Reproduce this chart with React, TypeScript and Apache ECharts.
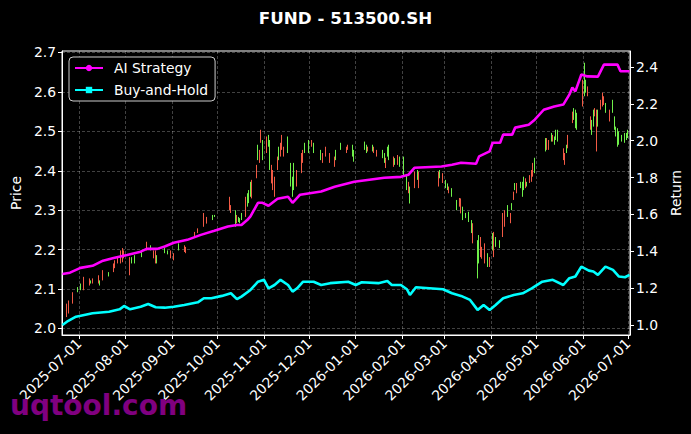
import { useEffect, useRef } from "react";
import * as echarts from "echarts";

const chartTitle = "FUND - 513500.SH";
const seriesNames = ["AI Strategy", "Buy-and-Hold"];
const xTickLabels = [
  "2025-07-01", "2025-08-01", "2025-09-01", "2025-10-01", "2025-11-01", "2025-12-01",
  "2026-01-01", "2026-02-01", "2026-03-01", "2026-04-01", "2026-05-01", "2026-06-01", "2026-07-01",
];
const priceTicks = [2.0, 2.1, 2.2, 2.3, 2.4, 2.5, 2.6, 2.7];
const returnTicks = [1.0, 1.2, 1.4, 1.6, 1.8, 2.0, 2.2, 2.4];

// [date, open, close, low, high]
const candles: [string, number, number, number, number][] = [
  ["2025-06-23", 2.034, 2.058, 2.029, 2.063],
  ["2025-06-24", 2.043, 2.066, 2.038, 2.071],
  ["2025-06-27", 2.066, 2.088, 2.063, 2.092],
  ["2025-06-30", 2.103, 2.095, 2.092, 2.105],
  ["2025-07-02", 2.111, 2.1, 2.097, 2.114],
  ["2025-07-04", 2.102, 2.126, 2.097, 2.131],
  ["2025-07-08", 2.112, 2.124, 2.109, 2.127],
  ["2025-07-09", 2.121, 2.116, 2.114, 2.122],
  ["2025-07-10", 2.116, 2.125, 2.114, 2.127],
  ["2025-07-14", 2.117, 2.131, 2.114, 2.135],
  ["2025-07-15", 2.12, 2.111, 2.109, 2.122],
  ["2025-07-17", 2.125, 2.144, 2.122, 2.148],
  ["2025-07-21", 2.141, 2.134, 2.132, 2.143],
  ["2025-07-24", 2.146, 2.161, 2.143, 2.165],
  ["2025-07-25", 2.156, 2.169, 2.153, 2.173],
  ["2025-07-27", 2.167, 2.178, 2.165, 2.181],
  ["2025-07-29", 2.17, 2.193, 2.165, 2.198],
  ["2025-07-30", 2.174, 2.198, 2.168, 2.204],
  ["2025-07-31", 2.181, 2.195, 2.178, 2.198],
  ["2025-08-04", 2.14, 2.174, 2.135, 2.181],
  ["2025-08-05", 2.179, 2.168, 2.165, 2.181],
  ["2025-08-07", 2.183, 2.169, 2.165, 2.186],
  ["2025-08-12", 2.196, 2.184, 2.181, 2.198],
  ["2025-08-15", 2.201, 2.216, 2.198, 2.22],
  ["2025-08-18", 2.209, 2.2, 2.198, 2.211],
  ["2025-08-20", 2.181, 2.194, 2.178, 2.198],
  ["2025-08-21", 2.17, 2.192, 2.165, 2.198],
  ["2025-08-22", 2.183, 2.168, 2.165, 2.186],
  ["2025-08-27", 2.202, 2.193, 2.191, 2.204],
  ["2025-08-29", 2.197, 2.19, 2.188, 2.198],
  ["2025-08-31", 2.181, 2.195, 2.178, 2.198],
  ["2025-09-02", 2.176, 2.188, 2.173, 2.191],
  ["2025-09-05", 2.213, 2.201, 2.198, 2.216],
  ["2025-09-09", 2.197, 2.208, 2.194, 2.211],
  ["2025-09-10", 2.193, 2.204, 2.191, 2.207],
  ["2025-09-16", 2.234, 2.243, 2.232, 2.245],
  ["2025-09-18", 2.244, 2.252, 2.242, 2.254],
  ["2025-09-22", 2.262, 2.288, 2.258, 2.293],
  ["2025-09-24", 2.268, 2.28, 2.266, 2.283],
  ["2025-09-28", 2.286, 2.277, 2.275, 2.288],
  ["2025-09-29", 2.287, 2.284, 2.283, 2.288],
  ["2025-10-09", 2.304, 2.329, 2.3, 2.334],
  ["2025-10-10", 2.296, 2.309, 2.293, 2.313],
  ["2025-10-13", 2.295, 2.263, 2.258, 2.3],
  ["2025-10-14", 2.27, 2.284, 2.267, 2.288],
  ["2025-10-15", 2.281, 2.272, 2.27, 2.283],
  ["2025-10-16", 2.278, 2.269, 2.267, 2.28],
  ["2025-10-17", 2.29, 2.278, 2.275, 2.293],
  ["2025-10-20", 2.288, 2.328, 2.283, 2.334],
  ["2025-10-21", 2.339, 2.313, 2.309, 2.343],
  ["2025-10-22", 2.347, 2.322, 2.318, 2.351],
  ["2025-10-23", 2.368, 2.339, 2.334, 2.372],
  ["2025-10-24", 2.335, 2.371, 2.33, 2.377],
  ["2025-10-27", 2.386, 2.41, 2.381, 2.415],
  ["2025-10-28", 2.461, 2.432, 2.427, 2.466],
  ["2025-10-29", 2.425, 2.448, 2.42, 2.453],
  ["2025-10-30", 2.476, 2.499, 2.471, 2.504],
  ["2025-10-31", 2.473, 2.433, 2.427, 2.478],
  ["2025-11-03", 2.45, 2.481, 2.445, 2.487],
  ["2025-11-04", 2.488, 2.465, 2.461, 2.491],
  ["2025-11-05", 2.472, 2.41, 2.402, 2.478],
  ["2025-11-06", 2.373, 2.409, 2.368, 2.415],
  ["2025-11-07", 2.356, 2.396, 2.351, 2.402],
  ["2025-11-08", 2.34, 2.379, 2.334, 2.385],
  ["2025-11-10", 2.406, 2.431, 2.402, 2.436],
  ["2025-11-11", 2.457, 2.431, 2.427, 2.461],
  ["2025-11-12", 2.44, 2.466, 2.436, 2.471],
  ["2025-11-13", 2.457, 2.486, 2.453, 2.491],
  ["2025-11-14", 2.439, 2.457, 2.436, 2.461],
  ["2025-11-17", 2.483, 2.45, 2.445, 2.487],
  ["2025-11-19", 2.415, 2.366, 2.36, 2.42],
  ["2025-11-20", 2.38, 2.34, 2.334, 2.385],
  ["2025-11-21", 2.414, 2.358, 2.351, 2.42],
  ["2025-11-23", 2.365, 2.397, 2.36, 2.402],
  ["2025-11-26", 2.399, 2.439, 2.394, 2.445],
  ["2025-11-27", 2.424, 2.448, 2.42, 2.453],
  ["2025-11-28", 2.468, 2.448, 2.445, 2.471],
  ["2025-12-01", 2.474, 2.449, 2.445, 2.478],
  ["2025-12-03", 2.463, 2.476, 2.461, 2.478],
  ["2025-12-04", 2.468, 2.448, 2.445, 2.471],
  ["2025-12-09", 2.45, 2.43, 2.427, 2.453],
  ["2025-12-10", 2.423, 2.441, 2.42, 2.445],
  ["2025-12-12", 2.439, 2.457, 2.436, 2.461],
  ["2025-12-15", 2.423, 2.441, 2.42, 2.445],
  ["2025-12-18", 2.413, 2.432, 2.41, 2.436],
  ["2025-12-19", 2.45, 2.431, 2.427, 2.453],
  ["2025-12-22", 2.468, 2.456, 2.453, 2.471],
  ["2025-12-26", 2.447, 2.458, 2.445, 2.461],
  ["2025-12-27", 2.455, 2.464, 2.453, 2.466],
  ["2025-12-30", 2.462, 2.44, 2.436, 2.466],
  ["2025-12-31", 2.45, 2.427, 2.423, 2.453],
  ["2026-01-07", 2.471, 2.456, 2.453, 2.474],
  ["2026-01-08", 2.463, 2.448, 2.445, 2.466],
  ["2026-01-09", 2.451, 2.459, 2.449, 2.461],
  ["2026-01-12", 2.463, 2.452, 2.449, 2.466],
  ["2026-01-13", 2.447, 2.458, 2.445, 2.461],
  ["2026-01-15", 2.438, 2.45, 2.436, 2.453],
  ["2026-01-19", 2.45, 2.435, 2.432, 2.453],
  ["2026-01-20", 2.442, 2.423, 2.42, 2.445],
  ["2026-01-21", 2.41, 2.429, 2.407, 2.433],
  ["2026-01-22", 2.458, 2.439, 2.436, 2.461],
  ["2026-01-23", 2.462, 2.431, 2.427, 2.466],
  ["2026-01-26", 2.413, 2.432, 2.41, 2.436],
  ["2026-01-27", 2.43, 2.418, 2.415, 2.432],
  ["2026-01-29", 2.418, 2.436, 2.415, 2.44],
  ["2026-01-30", 2.433, 2.414, 2.41, 2.436],
  ["2026-02-02", 2.43, 2.39, 2.385, 2.436],
  ["2026-02-04", 2.385, 2.356, 2.351, 2.389],
  ["2026-02-05", 2.346, 2.368, 2.343, 2.372],
  ["2026-02-06", 2.355, 2.322, 2.317, 2.36],
  ["2026-02-09", 2.361, 2.392, 2.356, 2.398],
  ["2026-02-11", 2.399, 2.38, 2.377, 2.402],
  ["2026-02-12", 2.36, 2.393, 2.356, 2.398],
  ["2026-02-25", 2.364, 2.393, 2.36, 2.398],
  ["2026-02-26", 2.4, 2.384, 2.381, 2.402],
  ["2026-02-28", 2.372, 2.39, 2.369, 2.394],
  ["2026-03-02", 2.374, 2.359, 2.356, 2.377],
  ["2026-03-03", 2.366, 2.354, 2.351, 2.368],
  ["2026-03-04", 2.346, 2.357, 2.343, 2.36],
  ["2026-03-06", 2.353, 2.337, 2.334, 2.356],
  ["2026-03-09", 2.322, 2.304, 2.3, 2.326],
  ["2026-03-11", 2.312, 2.327, 2.309, 2.331],
  ["2026-03-12", 2.297, 2.325, 2.292, 2.33],
  ["2026-03-13", 2.305, 2.279, 2.275, 2.309],
  ["2026-03-15", 2.291, 2.282, 2.28, 2.293],
  ["2026-03-17", 2.293, 2.274, 2.27, 2.296],
  ["2026-03-19", 2.271, 2.246, 2.242, 2.275],
  ["2026-03-20", 2.222, 2.261, 2.216, 2.267],
  ["2026-03-23", 2.218, 2.135, 2.127, 2.224],
  ["2026-03-24", 2.23, 2.172, 2.165, 2.237],
  ["2026-03-25", 2.186, 2.226, 2.181, 2.232],
  ["2026-03-26", 2.181, 2.203, 2.177, 2.207],
  ["2026-03-28", 2.17, 2.211, 2.165, 2.216],
  ["2026-03-30", 2.187, 2.16, 2.156, 2.191],
  ["2026-03-31", 2.159, 2.177, 2.156, 2.181],
  ["2026-04-02", 2.238, 2.203, 2.198, 2.242],
  ["2026-04-03", 2.187, 2.24, 2.181, 2.245],
  ["2026-04-04", 2.229, 2.21, 2.207, 2.232],
  ["2026-04-07", 2.222, 2.207, 2.204, 2.224],
  ["2026-04-09", 2.238, 2.287, 2.232, 2.293],
  ["2026-04-10", 2.262, 2.295, 2.258, 2.3],
  ["2026-04-12", 2.31, 2.286, 2.283, 2.313],
  ["2026-04-14", 2.27, 2.289, 2.267, 2.293],
  ["2026-04-15", 2.316, 2.303, 2.3, 2.318],
  ["2026-04-16", 2.328, 2.344, 2.326, 2.347],
  ["2026-04-17", 2.367, 2.354, 2.351, 2.369],
  ["2026-04-18", 2.346, 2.365, 2.343, 2.369],
  ["2026-04-21", 2.37, 2.359, 2.356, 2.372],
  ["2026-04-22", 2.368, 2.339, 2.334, 2.372],
  ["2026-04-23", 2.381, 2.356, 2.351, 2.385],
  ["2026-04-24", 2.359, 2.377, 2.356, 2.381],
  ["2026-04-25", 2.37, 2.362, 2.36, 2.372],
  ["2026-04-27", 2.372, 2.386, 2.369, 2.389],
  ["2026-04-28", 2.375, 2.398, 2.372, 2.402],
  ["2026-04-29", 2.389, 2.415, 2.385, 2.42],
  ["2026-04-30", 2.429, 2.398, 2.394, 2.433],
  ["2026-05-07", 2.479, 2.453, 2.449, 2.483],
  ["2026-05-08", 2.456, 2.479, 2.453, 2.483],
  ["2026-05-09", 2.456, 2.474, 2.453, 2.478],
  ["2026-05-11", 2.494, 2.477, 2.474, 2.496],
  ["2026-05-12", 2.477, 2.488, 2.474, 2.491],
  ["2026-05-13", 2.485, 2.469, 2.466, 2.487],
  ["2026-05-14", 2.501, 2.482, 2.478, 2.504],
  ["2026-05-15", 2.5, 2.478, 2.474, 2.504],
  ["2026-05-19", 2.43, 2.453, 2.427, 2.457],
  ["2026-05-20", 2.418, 2.441, 2.415, 2.445],
  ["2026-05-21", 2.463, 2.448, 2.445, 2.466],
  ["2026-05-22", 2.461, 2.486, 2.457, 2.491],
  ["2026-05-25", 2.524, 2.546, 2.521, 2.55],
  ["2026-05-26", 2.555, 2.533, 2.529, 2.559],
  ["2026-05-27", 2.55, 2.514, 2.508, 2.555],
  ["2026-05-28", 2.543, 2.508, 2.504, 2.547],
  ["2026-06-01", 2.57, 2.624, 2.563, 2.631],
  ["2026-06-02", 2.66, 2.598, 2.589, 2.674],
  ["2026-06-03", 2.627, 2.602, 2.598, 2.631],
  ["2026-06-04", 2.592, 2.611, 2.589, 2.614],
  ["2026-06-06", 2.508, 2.533, 2.504, 2.538],
  ["2026-06-07", 2.525, 2.495, 2.491, 2.529],
  ["2026-06-08", 2.551, 2.517, 2.512, 2.555],
  ["2026-06-09", 2.541, 2.556, 2.538, 2.559],
  ["2026-06-10", 2.46, 2.54, 2.449, 2.555],
  ["2026-06-11", 2.55, 2.517, 2.512, 2.555],
  ["2026-06-13", 2.558, 2.577, 2.555, 2.58],
  ["2026-06-14", 2.567, 2.593, 2.563, 2.598],
  ["2026-06-15", 2.57, 2.586, 2.567, 2.589],
  ["2026-06-16", 2.569, 2.55, 2.547, 2.572],
  ["2026-06-19", 2.528, 2.551, 2.525, 2.555],
  ["2026-06-21", 2.576, 2.551, 2.547, 2.58],
  ["2026-06-22", 2.534, 2.508, 2.504, 2.538],
  ["2026-06-23", 2.509, 2.491, 2.487, 2.512],
  ["2026-06-24", 2.503, 2.466, 2.461, 2.508],
  ["2026-06-25", 2.496, 2.47, 2.466, 2.5],
  ["2026-06-27", 2.489, 2.477, 2.474, 2.491],
  ["2026-06-29", 2.493, 2.474, 2.471, 2.496],
  ["2026-06-30", 2.494, 2.481, 2.478, 2.496],
  ["2026-07-01", 2.501, 2.486, 2.483, 2.504],
];

const aiStrategy: [string, number][] = [
  ["2025-06-20", 1.277], ["2025-06-25", 1.284], ["2025-07-02", 1.31], ["2025-07-10", 1.321],
  ["2025-07-17", 1.349], ["2025-07-24", 1.364], ["2025-08-02", 1.38], ["2025-08-11", 1.398],
  ["2025-08-15", 1.413], ["2025-08-22", 1.413], ["2025-08-27", 1.426], ["2025-09-02", 1.446],
  ["2025-09-11", 1.462], ["2025-09-20", 1.489], ["2025-09-29", 1.511], ["2025-10-08", 1.534],
  ["2025-10-14", 1.543], ["2025-10-17", 1.543], ["2025-10-21", 1.571], ["2025-10-23", 1.589],
  ["2025-10-28", 1.663], ["2025-10-31", 1.663], ["2025-11-04", 1.647], ["2025-11-10", 1.685],
  ["2025-11-17", 1.696], ["2025-11-20", 1.663], ["2025-11-25", 1.707], ["2025-12-09", 1.724],
  ["2025-12-18", 1.75], ["2025-12-31", 1.777], ["2026-01-20", 1.799], ["2026-01-31", 1.804],
  ["2026-02-05", 1.815], ["2026-02-09", 1.853], ["2026-02-27", 1.86], ["2026-03-06", 1.87],
  ["2026-03-12", 1.88], ["2026-03-22", 1.875], ["2026-03-24", 1.915], ["2026-03-31", 1.942],
  ["2026-04-02", 1.989], ["2026-04-07", 1.989], ["2026-04-09", 2.033], ["2026-04-15", 2.033],
  ["2026-04-17", 2.071], ["2026-04-26", 2.087], ["2026-04-30", 2.114], ["2026-05-06", 2.168],
  ["2026-05-13", 2.186], ["2026-05-19", 2.196], ["2026-05-23", 2.25], ["2026-05-25", 2.288],
  ["2026-05-27", 2.268], ["2026-05-31", 2.359], ["2026-06-04", 2.349], ["2026-06-11", 2.348],
  ["2026-06-15", 2.413], ["2026-06-24", 2.413], ["2026-06-26", 2.377], ["2026-07-02", 2.377],
];

const buyHold: [string, number][] = [
  ["2025-06-20", 1.0], ["2025-06-23", 1.018], ["2025-06-29", 1.045], ["2025-07-10", 1.064],
  ["2025-07-21", 1.072], ["2025-07-28", 1.085], ["2025-07-31", 1.103], ["2025-08-04", 1.085],
  ["2025-08-11", 1.099], ["2025-08-16", 1.114], ["2025-08-21", 1.096], ["2025-08-27", 1.094],
  ["2025-09-02", 1.099], ["2025-09-09", 1.109], ["2025-09-18", 1.123], ["2025-09-22", 1.145],
  ["2025-09-27", 1.145], ["2025-10-04", 1.158], ["2025-10-10", 1.172], ["2025-10-14", 1.14],
  ["2025-10-17", 1.154], ["2025-10-23", 1.19], ["2025-10-28", 1.235], ["2025-11-01", 1.245],
  ["2025-11-04", 1.199], ["2025-11-08", 1.217], ["2025-11-12", 1.245], ["2025-11-17", 1.217],
  ["2025-11-20", 1.181], ["2025-11-23", 1.199], ["2025-11-27", 1.235], ["2025-12-04", 1.235],
  ["2025-12-09", 1.217], ["2025-12-15", 1.227], ["2025-12-27", 1.235], ["2026-01-01", 1.217],
  ["2026-01-05", 1.232], ["2026-01-16", 1.227], ["2026-01-22", 1.239], ["2026-01-25", 1.217],
  ["2026-01-31", 1.217], ["2026-02-04", 1.194], ["2026-02-06", 1.163], ["2026-02-10", 1.205],
  ["2026-02-28", 1.194], ["2026-03-06", 1.172], ["2026-03-12", 1.158], ["2026-03-18", 1.136],
  ["2026-03-23", 1.082], ["2026-03-27", 1.109], ["2026-03-31", 1.082], ["2026-04-04", 1.109],
  ["2026-04-09", 1.145], ["2026-04-16", 1.163], ["2026-04-22", 1.172], ["2026-04-28", 1.199],
  ["2026-05-05", 1.235], ["2026-05-12", 1.245], ["2026-05-19", 1.217], ["2026-05-23", 1.254],
  ["2026-05-27", 1.263], ["2026-05-31", 1.317], ["2026-06-05", 1.295], ["2026-06-08", 1.29],
  ["2026-06-11", 1.272], ["2026-06-16", 1.317], ["2026-06-21", 1.299], ["2026-06-25", 1.263],
  ["2026-06-29", 1.259], ["2026-07-02", 1.272],
];

const FONT = "DejaVu Sans";

function ts(s: string): number {
  const [y, m, d] = s.split("-").map(Number);
  return new Date(y, m - 1, d).getTime();
}
function fmtDate(v: number): string {
  const d = new Date(v);
  const p = (n: number) => (n < 10 ? "0" + n : "" + n);
  return d.getFullYear() + "-" + p(d.getMonth() + 1) + "-" + p(d.getDate());
}

export default function App() {
  const ref = useRef<HTMLDivElement>(null);
  useEffect(() => {
    if (!ref.current) return;
    const chart = echarts.init(ref.current, null, { renderer: "svg" });
    const xTicks = xTickLabels.map(ts);
    const HOUR = 3600 * 1000;
    const gridColor = "rgba(255,255,255,0.32)";
    chart.setOption({
      animation: false,
      backgroundColor: "#000",
      textStyle: { fontFamily: FONT },
      title: {
        text: chartTitle,
        left: "center",
        top: 4,
        textStyle: { color: "#fff", fontSize: 16.7, fontWeight: "bold", fontFamily: FONT },
      },
      legend: {
        data: seriesNames,
        orient: "vertical",
        left: 69,
        top: 57,
        itemWidth: 28,
        itemHeight: 8,
        itemGap: 8,
        padding: [4, 7, 4, 5],
        backgroundColor: "#000",
        borderColor: "#cccccc",
        borderWidth: 1,
        borderRadius: 4,
        textStyle: { color: "#fff", fontSize: 13.9, fontFamily: FONT, padding: [0, 0, 0, 6] },
      },
      grid: {
        left: 62,
        top: 51,
        width: 568,
        height: 284,
        show: true,
        borderColor: "#fff",
        borderWidth: 1,
        backgroundColor: "transparent",
      },
      xAxis: {
        type: "value",
        min: ts("2025-06-19") + 17 * HOUR,
        max: ts("2026-07-02") + 8 * HOUR,
        axisLine: { show: true, lineStyle: { color: "#fff" } },
        axisTick: { show: true, length: 4, lineStyle: { color: "#fff" }, customValues: xTicks },
        axisLabel: {
          customValues: xTicks,
          formatter: (v: number) => fmtDate(v),
          rotate: 45,
          color: "#fff",
          fontSize: 13.9,
          fontFamily: FONT,
          margin: 6,
          hideOverlap: false,
          showMinLabel: true,
          showMaxLabel: true,
        },
        splitLine: { show: true, lineStyle: { color: gridColor, type: [3, 2], width: 0.8 } },
      },
      yAxis: [
        {
          type: "value",
          position: "left",
          min: 1.9835,
          max: 2.7038,
          name: "Price",
          nameLocation: "middle",
          nameGap: 38,
          nameTextStyle: { color: "#fff", fontSize: 13.9, fontFamily: FONT },
          axisLine: { show: true, lineStyle: { color: "#fff" } },
          axisTick: { show: true, length: 4, lineStyle: { color: "#fff" }, customValues: priceTicks },
          axisLabel: {
            customValues: priceTicks,
            formatter: (v: number) => v.toFixed(1),
            color: "#fff",
            fontSize: 13.9,
            fontFamily: FONT,
            margin: 6,
          },
          splitLine: { show: true, lineStyle: { color: gridColor, type: [3, 2], width: 0.8 } },
        },
        {
          type: "value",
          position: "right",
          min: 0.9457,
          max: 2.4868,
          name: "Return",
          nameLocation: "middle",
          nameGap: 34,
          nameTextStyle: { color: "#fff", fontSize: 13.9, fontFamily: FONT },
          axisLine: { show: true, lineStyle: { color: "#fff" } },
          axisTick: { show: true, length: 4, lineStyle: { color: "#fff" }, customValues: returnTicks },
          axisLabel: {
            customValues: returnTicks,
            formatter: (v: number) => v.toFixed(1),
            color: "#fff",
            fontSize: 13.9,
            fontFamily: FONT,
            margin: 6,
          },
          splitLine: { show: false },
        },
      ],
      series: [
        {
          type: "candlestick",
          name: "Price",
          yAxisIndex: 0,
          barWidth: 1,
          data: candles.map((c) => [ts(c[0]), c[1], c[2], c[3], c[4]]),
          itemStyle: {
            color: "#f25a45",
            color0: "#6ff04a",
            borderColor: "#f25a45",
            borderColor0: "#6ff04a",
            borderWidth: 1,
          },
          z: 2,
        },
        {
          type: "line",
          name: seriesNames[0],
          yAxisIndex: 1,
          data: aiStrategy.map((d) => [ts(d[0]), d[1]]),
          symbol: "circle",
          symbolSize: 5,
          showSymbol: false,
          lineStyle: { color: "#ff00ff", width: 2.6 },
          itemStyle: { color: "#ff00ff" },
          z: 3,
        },
        {
          type: "line",
          name: seriesNames[1],
          yAxisIndex: 1,
          data: buyHold.map((d) => [ts(d[0]), d[1]]),
          symbol: "rect",
          symbolSize: 5,
          showSymbol: false,
          lineStyle: { color: "#00ffff", width: 2.6 },
          itemStyle: { color: "#00ffff" },
          z: 3,
        },
      ],
      graphic: [
        {
          type: "text",
          left: 10,
          top: 391,
          z: 100,
          style: {
            text: "uqtool.com",
            fill: "#800080",
            fontSize: 28,
            fontWeight: "bold",
            fontFamily: FONT,
          },
        },
      ],
    });
    return () => chart.dispose();
  }, []);
  return (
    <div
      ref={ref}
      style={{ position: "fixed", left: 0, top: 0, width: 691, height: 434, background: "#000" }}
    />
  );
}
